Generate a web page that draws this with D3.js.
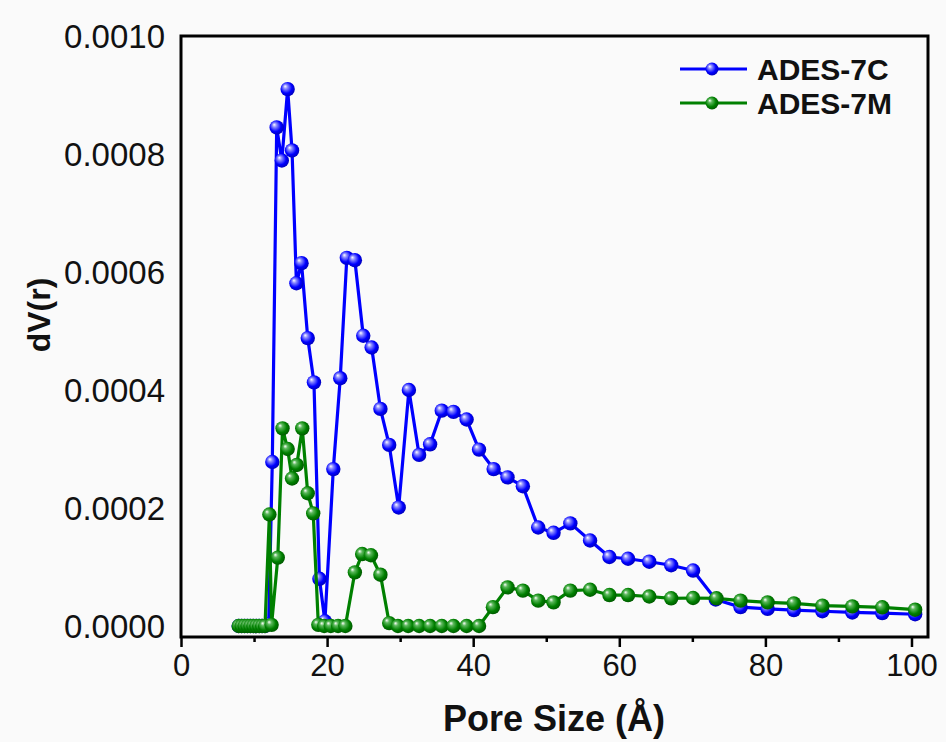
<!DOCTYPE html>
<html>
<head>
<meta charset="utf-8">
<script src="https://cdn.jsdelivr.net/npm/d3@7"></script>
<style>
  body { margin: 0; background: #fafafa; }
  svg { display: block; }
  text { font-family: Arial, "Liberation Sans", sans-serif; fill: #111; }
</style>
</head>
<body>
<script>
// pore size (Å) and dV(r)
var sizeC = [7.9, 8.3, 8.7, 9.1, 9.5, 9.9, 10.3, 10.7, 11.1, 11.5, 12.0, 12.5, 13.1, 13.8, 14.6, 15.2, 15.8, 16.5, 17.35, 18.2, 18.95, 19.7, 20.85, 21.8, 22.7, 23.8, 24.95, 26.1, 27.3, 28.5, 29.8, 31.2, 32.6, 34.1, 35.7, 37.3, 39.1, 40.8, 42.8, 44.7, 46.8, 48.9, 51.0, 53.3, 56.0, 58.65, 61.2, 64.1, 67.1, 70.1, 73.2, 76.6, 80.3, 83.9, 87.8, 91.9, 96.0, 100.5];
var dvC = [0, 0, 0, 0, 0, 0, 0, 0, 0, 0, 0.000003, 0.000278, 0.000845, 0.000789, 0.00091, 0.000806, 0.000581, 0.000615, 0.000488, 0.000413, 0.00008, 0.000008, 0.000266, 0.00042, 0.000624, 0.00062, 0.000492, 0.000472, 0.000368, 0.000307, 0.000201, 0.0004, 0.00029, 0.000308, 0.000365, 0.000363, 0.00035, 0.000299, 0.000266, 0.000252, 0.000237, 0.000167, 0.000158, 0.000174, 0.000145, 0.000117, 0.000114, 0.000109, 0.000103, 0.000094, 0.000045, 0.000032, 0.000029, 0.000027, 0.000025, 0.000023, 0.000022, 0.00002];

var sizeM = [7.9, 8.3, 8.7, 9.1, 9.5, 9.9, 10.3, 10.7, 11.1, 11.5, 12.1, 12.4, 13.25, 13.9, 14.6, 15.2, 15.85, 16.6, 17.35, 18.1, 18.8, 19.6, 20.5, 21.5, 22.5, 23.8, 24.8, 26.0, 27.3, 28.5, 29.7, 31.1, 32.6, 34.1, 35.7, 37.3, 39.1, 40.8, 42.7, 44.7, 46.8, 48.9, 51.0, 53.3, 56.0, 58.65, 61.2, 64.1, 67.1, 70.1, 73.3, 76.6, 80.3, 83.9, 87.8, 91.9, 96.0, 100.5];
var dvM = [0, 0, 0, 0, 0, 0, 0, 0, 0, 0, 0.000189, 0.000002, 0.000116, 0.000335, 0.0003, 0.00025, 0.000273, 0.000335, 0.000225, 0.000191, 0.000002, 0, 0, 0, 0, 0.000091, 0.000122, 0.00012, 0.000087, 0.000005, 0, 0, 0, 0, 0, 0, 0, 0, 0.000032, 0.0000655, 0.00006, 0.000043, 0.00004, 0.00006, 0.0000615, 0.0000525, 0.0000525, 0.00005, 0.000047, 0.0000475, 0.000047, 0.000043, 0.00004, 0.0000384, 0.0000345, 0.0000333, 0.0000317, 0.0000277];

var seriesNames = ["ADES-7C", "ADES-7M"];
var xTicks = [0, 20, 40, 60, 80, 100];
var xMinor = [10, 30, 50, 70, 90];
var yTicks = [0, 0.0002, 0.0004, 0.0006, 0.0008, 0.001];

var W = 946, H = 742;
var plotL = 181, plotR = 928, plotT = 36, plotB = 637;

var svg = d3.select("body").append("svg").attr("width", W).attr("height", H);

var x = d3.scaleLinear().domain([0, 102.26]).range([plotL, plotR]);
var y = d3.scaleLinear().domain([-0.0000186, 0.001]).range([plotB, plotT]);

var colors = { "ADES-7C": "#0000ff", "ADES-7M": "#008000" };

// sphere-like marker gradients
var defs = svg.append("defs");
function ball(id, light, mid, dark) {
  var g = defs.append("radialGradient").attr("id", id)
    .attr("cx", "45%").attr("cy", "45%").attr("r", "60%")
    .attr("fx", "32%").attr("fy", "30%");
  g.append("stop").attr("offset", "0%").attr("stop-color", "#ffffff");
  g.append("stop").attr("offset", "25%").attr("stop-color", light);
  g.append("stop").attr("offset", "65%").attr("stop-color", mid);
  g.append("stop").attr("offset", "100%").attr("stop-color", dark);
}
ball("ballC", "#8a8aff", "#0000ff", "#0000b0");
ball("ballM", "#5cb85c", "#008000", "#005200");

// x axis: major + minor ticks, drawn down from the frame
var xAxis = svg.append("g")
  .attr("transform", "translate(0," + plotB + ")")
  .call(d3.axisBottom(x).tickValues(xTicks).tickSize(10).tickPadding(7).tickFormat(d3.format("d")));
xAxis.select(".domain").remove();
xAxis.selectAll("line").attr("stroke", "#000").attr("stroke-width", 2.5);
xAxis.selectAll("text")
  .style("font-size", "31px")
  .attr("fill", "#111")
  .attr("dy", "0.71em");

var xMin = svg.append("g")
  .attr("transform", "translate(0," + plotB + ")")
  .call(d3.axisBottom(x).tickValues(xMinor).tickSize(5).tickFormat(""));
xMin.select(".domain").remove();
xMin.selectAll("line").attr("stroke", "#000").attr("stroke-width", 2.5);

// y axis: labels only
var yAxis = svg.append("g")
  .attr("transform", "translate(" + plotL + ",0)")
  .call(d3.axisLeft(y).tickValues(yTicks).tickSize(0).tickPadding(16).tickFormat(d3.format(".4f")));
yAxis.select(".domain").remove();
yAxis.selectAll("text")
  .style("font-size", "33px")
  .attr("fill", "#111")
  .attr("dy", "0.36em");

// frame
svg.append("rect")
  .attr("x", plotL).attr("y", plotT)
  .attr("width", plotR - plotL).attr("height", plotB - plotT)
  .attr("fill", "none").attr("stroke", "#000").attr("stroke-width", 3);

var line = d3.line().x(function(d) { return x(d[0]); }).y(function(d) { return y(d[1]); });

function drawSeries(xs, ys, name, grad) {
  var pts = xs.map(function(v, i) { return [v, ys[i]]; });
  var g = svg.append("g").attr("class", "series");
  g.append("path").datum(pts)
    .attr("d", line)
    .attr("fill", "none")
    .attr("stroke", colors[name])
    .attr("stroke-width", 3.2)
    .attr("stroke-linejoin", "round");
  g.selectAll("circle").data(pts).enter().append("circle")
    .attr("cx", function(d) { return x(d[0]); })
    .attr("cy", function(d) { return y(d[1]); })
    .attr("r", 7.2)
    .attr("fill", "url(#" + grad + ")");
}
drawSeries(sizeC, dvC, "ADES-7C", "ballC");
drawSeries(sizeM, dvM, "ADES-7M", "ballM");

// legend
var legend = svg.selectAll(".legend").data(seriesNames).enter().append("g")
  .attr("class", "legend")
  .attr("transform", function(d, i) { return "translate(680," + (69 + i * 34) + ")"; });
legend.append("line")
  .attr("x1", 0).attr("x2", 67)
  .attr("stroke", function(d) { return colors[d]; })
  .attr("stroke-width", 3);
legend.append("circle")
  .attr("cx", 32).attr("r", 6.5)
  .attr("fill", function(d, i) { return i === 0 ? "url(#ballC)" : "url(#ballM)"; });
legend.append("text")
  .attr("x", 77)
  .attr("dy", "0.36em")
  .style("font-size", "30px")
  .style("font-weight", "bold")
  .text(function(d) { return d; });

// axis titles
svg.append("text")
  .attr("x", 554).attr("y", 731)
  .attr("text-anchor", "middle")
  .style("font-size", "36px")
  .style("font-weight", "bold")
  .text("Pore Size (Å)");

svg.append("text")
  .attr("transform", "translate(50,315) rotate(-90)")
  .attr("text-anchor", "middle")
  .style("font-size", "32px")
  .style("font-weight", "bold")
  .text("dV(r)");
</script>
</body>
</html>
